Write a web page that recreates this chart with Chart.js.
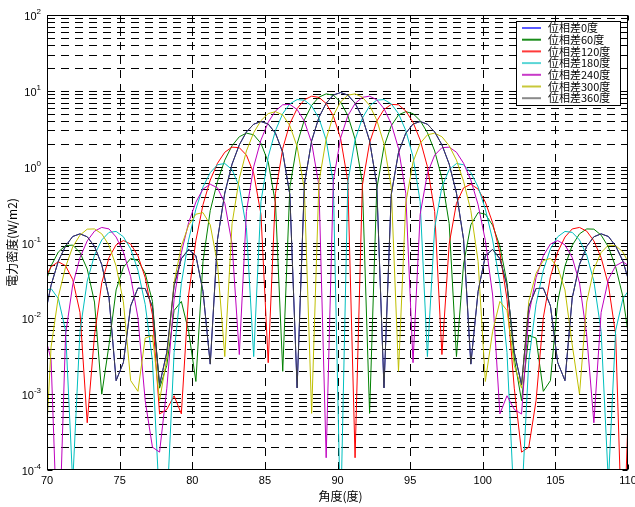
<!DOCTYPE html>
<html><head><meta charset="utf-8">
<script src="https://cdn.jsdelivr.net/npm/chart.js@4.4.0/dist/chart.umd.min.js"></script>
<style>html,body{margin:0;padding:0;background:#fff;}#wrap{width:635px;height:507px;position:relative;}</style>
</head><body><div id="wrap"><canvas id="c" width="635" height="507"></canvas></div>
<script>
// angle samples (degrees)
const angles = [69.78,70.28,70.78,71.28,71.77,72.27,72.77,73.27,73.77,74.27,74.76,75.26,75.76,76.26,76.76,77.26,77.75,78.25,78.75,79.25,79.75,80.25,80.74,81.24,81.74,82.24,82.74,83.24,83.73,84.23,84.73,85.23,85.73,86.23,86.72,87.22,87.72,88.22,88.72,89.22,89.71,90.21,90.71,91.21,91.71,92.21,92.70,93.20,93.70,94.20,94.70,95.20,95.69,96.19,96.69,97.19,97.69,98.19,98.68,99.18,99.68,100.18,100.68,101.18,101.67,102.17,102.67,103.17,103.67,104.17,104.66,105.16,105.66,106.16,106.66,107.16,107.65,108.15,108.65,109.15,109.65,110.14];

const power0 = [0.00923,0.0273,0.0568,0.0901,0.120,0.130,0.119,0.0889,0.0512,0.0186,0.00151,0.00262,0.0146,0.0250,0.0247,0.0142,0.00133,0.00357,0.0271,0.0612,0.0810,0.0669,0.0227,0.00249,0.110,0.449,1.08,1.94,2.87,3.63,3.94,3.65,2.76,1.54,0.428,0.00121,0.588,2.19,4.46,6.87,8.78,9.5,
8.78,6.87,4.46,2.19,0.588,0.00121,0.428,1.54,2.76,3.65,3.94,3.63,2.87,1.94,1.08,0.449,0.110,0.00249,0.0227,0.0669,0.0810,0.0612,0.0271,0.00357,0.00133,0.0142,0.0247,0.0250,0.0146,0.00262,0.00151,0.0186,0.0512,0.0889,0.119,0.130,0.120,0.0901,0.0568,0.0273];

const power60 = [0.0252,0.0491,0.0750,0.0909,0.0924,0.0738,0.0446,0.0164,0.00100,0.00447,0.0237,0.0472,0.0616,0.0578,0.0392,0.0168,0.00120,0.00240,0.0127,0.0167,0.00675,0.00147,0.0563,0.264,0.641,1.22,1.89,2.48,2.77,2.63,2.03,1.15,0.331,0.00200,0.536,2.00,4.14,6.43,8.26,9.12,8.76,7.13,
4.72,2.31,0.619,0.000558,0.503,1.84,3.47,4.81,5.31,5.00,4.05,2.81,1.61,0.700,0.177,0.00313,0.0519,0.171,0.248,0.236,0.169,0.0895,0.0297,0.00297,0.000822,0.00594,0.00549,0.00109,0.00151,0.0165,0.0489,0.0916,0.130,0.151,0.150,0.125,0.0875,0.0477,0.0193,0.00418];

const power120 = [0.0319,0.0478,0.0557,0.0493,0.0325,0.0120,0.00042,0.00593,0.0294,0.0634,0.0931,0.106,0.0955,0.0669,0.0345,0.0111,0.000548,0.000629,0.000952,0.00055,0.0203,0.106,0.315,0.666,1.11,1.55,1.81,1.78,1.42,0.817,0.235,0.0026,0.446,1.74,3.69,5.83,7.62,8.5,8.2,6.81,4.68,2.38,
0.641,0.000145,0.566,2.07,3.98,5.67,6.62,6.55,5.43,3.85,2.25,1.00,0.256,0.00333,0.0958,0.329,0.525,0.587,0.506,0.341,0.182,0.0733,0.0179,0.0012,0.000172,0.0002,0.00082,0.0102,0.0354,0.0748,0.118,0.151,0.158,0.141,0.105,0.0632,0.0276,0.00612,0.0000052,0.00286];

const power180 = [0.0228,0.0247,0.0182,0.00691,0.000068,0.00672,0.0309,0.0681,0.108,0.136,0.140,0.119,0.0824,0.0431,0.0153,0.00276,0.0000355,0.000031,0.00354,0.0289,0.108,0.275,0.540,0.835,1.06,1.10,0.914,0.543,0.157,0.00313,0.346,1.35,3.00,5.01,6.73,7.67,7.53,6.32,4.36,2.25,0.622,0.00002,
0.622,2.25,4.36,6.32,7.53,7.67,6.73,5.01,3.00,1.35,0.346,0.00313,0.157,0.543,0.914,1.10,1.06,0.835,0.540,0.275,0.108,0.0289,0.00354,0.000031,0.0000355,0.00276,0.0153,0.0431,0.0824,0.119,0.140,0.136,0.108,0.0681,0.0309,0.00672,0.000068,0.00691,0.0182,0.0247];

const power240 = [0.00683,0.00286,0.0000052,0.00612,0.0276,0.0632,0.105,0.141,0.158,0.151,0.118,0.0748,0.0354,0.0102,0.00082,0.0002,0.000172,0.0012,0.0179,0.0733,0.182,0.341,0.506,0.587,0.525,0.329,0.0958,0.00333,0.256,1.00,2.25,3.85,5.43,6.55,6.62,5.67,3.98,2.07,0.566,0.000145,0.641,2.38,
4.68,6.81,8.2,8.5,7.62,5.83,3.69,1.74,0.446,0.0026,0.235,0.817,1.42,1.78,1.81,1.55,1.11,0.666,0.315,0.106,0.0203,0.00055,0.000952,0.000629,0.000548,0.0111,0.0345,0.0669,0.0955,0.106,0.0931,0.0634,0.0294,0.00593,0.00042,0.0120,0.0325,0.0493,0.0557,0.0478];

const power300 = [0.00006,0.00418,0.0193,0.0477,0.0875,0.125,0.150,0.151,0.130,0.0916,0.0489,0.0165,0.00151,0.00109,0.00549,0.00594,0.000822,0.00297,0.0297,0.0895,0.169,0.236,0.248,0.171,0.0519,0.00313,0.177,0.700,1.61,2.81,4.05,5.00,5.31,4.81,3.47,1.84,0.503,0.000558,0.619,2.31,4.72,7.13,
8.76,9.12,8.26,6.43,4.14,2.00,0.536,0.00200,0.331,1.15,2.03,2.63,2.77,2.48,1.89,1.22,0.641,0.264,0.0563,0.00147,0.00675,0.0167,0.0127,0.00240,0.00120,0.0168,0.0392,0.0578,0.0616,0.0472,0.0237,0.00447,0.00100,0.0164,0.0446,0.0738,0.0924,0.0909,0.0750,0.0491];

const power360 = [0.00923,0.0273,0.0568,0.0901,0.120,0.130,0.119,0.0889,0.0512,0.0186,0.00151,0.00262,0.0146,0.0250,0.0247,0.0142,0.00133,0.00357,0.0271,0.0612,0.0810,0.0669,0.0227,0.00249,0.110,0.449,1.08,1.94,2.87,3.63,3.94,3.65,2.76,1.54,0.428,0.00121,0.588,2.19,4.46,6.87,8.78,9.5,
8.78,6.87,4.46,2.19,0.588,0.00121,0.428,1.54,2.76,3.65,3.94,3.63,2.87,1.94,1.08,0.449,0.110,0.00249,0.0227,0.0669,0.0810,0.0612,0.0271,0.00357,0.00133,0.0142,0.0247,0.0250,0.0146,0.00262,0.00151,0.0186,0.0512,0.0889,0.119,0.130,0.120,0.0901,0.0568,0.0273];

const seriesLabels = ['位相差0度','位相差60度','位相差120度','位相差180度','位相差240度','位相差300度','位相差360度'];
const xTickValues = [70,75,80,85,90,95,100,105,110];
const yTickExponents = [-4,-3,-2,-1,0,1,2];
const xTitle = '角度(度)';
const yTitle = '電力密度(W/m2)';

const seriesValues = [power0,power60,power120,power180,power240,power300,power360];
const lineColors = ['#0000ff','#008000','#ff0000','#00bfbf','#bf00bf','#bfbf00','#404040'];
const legendColors = ['#5a5aff','#1a8c1a','#ff3a3a','#5ad6d6','#c83ac8','#c8c83a','#8a8a8a'];

const datasets = seriesValues.map((vals, i) => ({
  label: seriesLabels[i],
  data: angles.map((a, k) => ({x: a, y: vals[k]})),
  borderColor: lineColors[i],
  borderWidth: 1,
  pointRadius: 0,
  tension: 0,
  fill: false,
  order: 7 - i
}));

const TICK_FONT = '11px "Liberation Sans", Arial, sans-serif';
const EXP_FONT = '8px "Liberation Sans", Arial, sans-serif';
const CJK_FONT = '12px "Noto Sans CJK JP", sans-serif';
const LEGEND_FONT = '11px "Noto Sans CJK JP", sans-serif';

const matlabAxes = {
  id: 'matlabAxes',
  beforeDatasetsDraw(chart) {
    const {ctx, chartArea: ca, scales: {x, y}} = chart;
    ctx.save();
    ctx.strokeStyle = '#000';
    ctx.lineWidth = 1;
    ctx.setLineDash([8, 6]);
    for (let e = -4; e <= 1; e++) {
      for (let m = 1; m <= 9; m++) {
        const v = m * Math.pow(10, e);
        if (v <= 1e-4 || v >= 100) continue;
        const py = Math.round(y.getPixelForValue(v)) + 0.5;
        ctx.beginPath(); ctx.moveTo(ca.left, py); ctx.lineTo(ca.right, py); ctx.stroke();
      }
    }
    xTickValues.forEach(v => {
      if (v <= 70 || v >= 110) return;
      const px = Math.round(x.getPixelForValue(v)) + 0.5;
      ctx.beginPath(); ctx.moveTo(px, ca.bottom); ctx.lineTo(px, ca.top); ctx.stroke();
    });
    ctx.restore();
  },
  afterDatasetsDraw(chart) {
    const {ctx, chartArea: ca, scales: {x, y}} = chart;
    ctx.save();
    ctx.setLineDash([]);
    ctx.strokeStyle = '#000';
    ctx.lineWidth = 1;
    const L = Math.round(ca.left) + 0.5, R = Math.round(ca.right) - 0.5;
    const T = Math.round(ca.top) + 0.5, B = Math.round(ca.bottom) - 0.5;
    ctx.beginPath();
    xTickValues.forEach(v => {
      const px = Math.round(x.getPixelForValue(v)) + 0.5;
      ctx.moveTo(px, B); ctx.lineTo(px, B - 5);
      ctx.moveTo(px, T); ctx.lineTo(px, T + 5);
    });
    for (let e = -4; e <= 2; e++) {
      for (let m = 1; m <= 9; m++) {
        const v = m * Math.pow(10, e);
        if (v < 1e-4 || v > 100) continue;
        const py = Math.round(y.getPixelForValue(v)) + 0.5;
        const len = m === 1 ? 5 : 3;
        ctx.moveTo(L, py); ctx.lineTo(L + len, py);
        ctx.moveTo(R, py); ctx.lineTo(R - len, py);
      }
    }
    ctx.stroke();
    ctx.strokeRect(L, T, R - L, B - T);

    ctx.fillStyle = '#000';
    ctx.font = TICK_FONT;
    ctx.textAlign = 'center';
    ctx.textBaseline = 'alphabetic';
    xTickValues.forEach(v => {
      ctx.fillText(String(v), x.getPixelForValue(v), ca.bottom + 14);
    });
    yTickExponents.forEach(e => {
      const py = y.getPixelForValue(Math.pow(10, e));
      const expStr = e < 0 ? '-' + Math.abs(e) : String(e);
      ctx.font = EXP_FONT;
      const we = ctx.measureText(expStr).width;
      ctx.font = TICK_FONT;
      const wb = ctx.measureText('10').width;
      const right = 41;
      ctx.textAlign = 'left';
      ctx.fillText('10', right - we - wb, py + 5);
      ctx.font = EXP_FONT;
      ctx.fillText(expStr, right - we, py - 1);
    });
    ctx.font = CJK_FONT;
    ctx.textAlign = 'center';
    ctx.textBaseline = 'middle';
    ctx.fillText(xTitle, (ca.left + ca.right) / 2 + 3, 496);
    ctx.save();
    ctx.translate(12, (ca.top + ca.bottom) / 2);
    ctx.rotate(-Math.PI / 2);
    ctx.fillText(yTitle, 0, 0);
    ctx.restore();

    const bx = 516.5, by = 21.5, bw = 104, bh = 84;
    ctx.fillStyle = '#fff';
    ctx.fillRect(bx, by, bw, bh);
    ctx.strokeStyle = '#000';
    ctx.lineWidth = 1;
    ctx.strokeRect(bx, by, bw, bh);
    ctx.font = LEGEND_FONT;
    ctx.textAlign = 'left';
    ctx.textBaseline = 'middle';
    seriesLabels.forEach((lab, i) => {
      const ry = 28 + i * 11.7;
      ctx.strokeStyle = legendColors[i];
      ctx.lineWidth = 2;
      ctx.beginPath(); ctx.moveTo(522, ry); ctx.lineTo(541, ry); ctx.stroke();
      ctx.fillStyle = '#000';
      ctx.fillText(lab, 548, ry);
    });
    ctx.restore();
  }
};

new Chart(document.getElementById('c'), {
  type: 'line',
  data: {datasets},
  options: {
    responsive: false,
    animation: false,
    events: [],
    layout: {padding: {left: 47, top: 15, right: 7, bottom: 37}},
    scales: {
      x: {type: 'linear', min: 70, max: 110, display: false},
      y: {type: 'logarithmic', min: 1e-4, max: 100, display: false}
    },
    plugins: {legend: {display: false}, tooltip: {enabled: false}, title: {display: false}}
  },
  plugins: [matlabAxes]
});
</script>
</body></html>
